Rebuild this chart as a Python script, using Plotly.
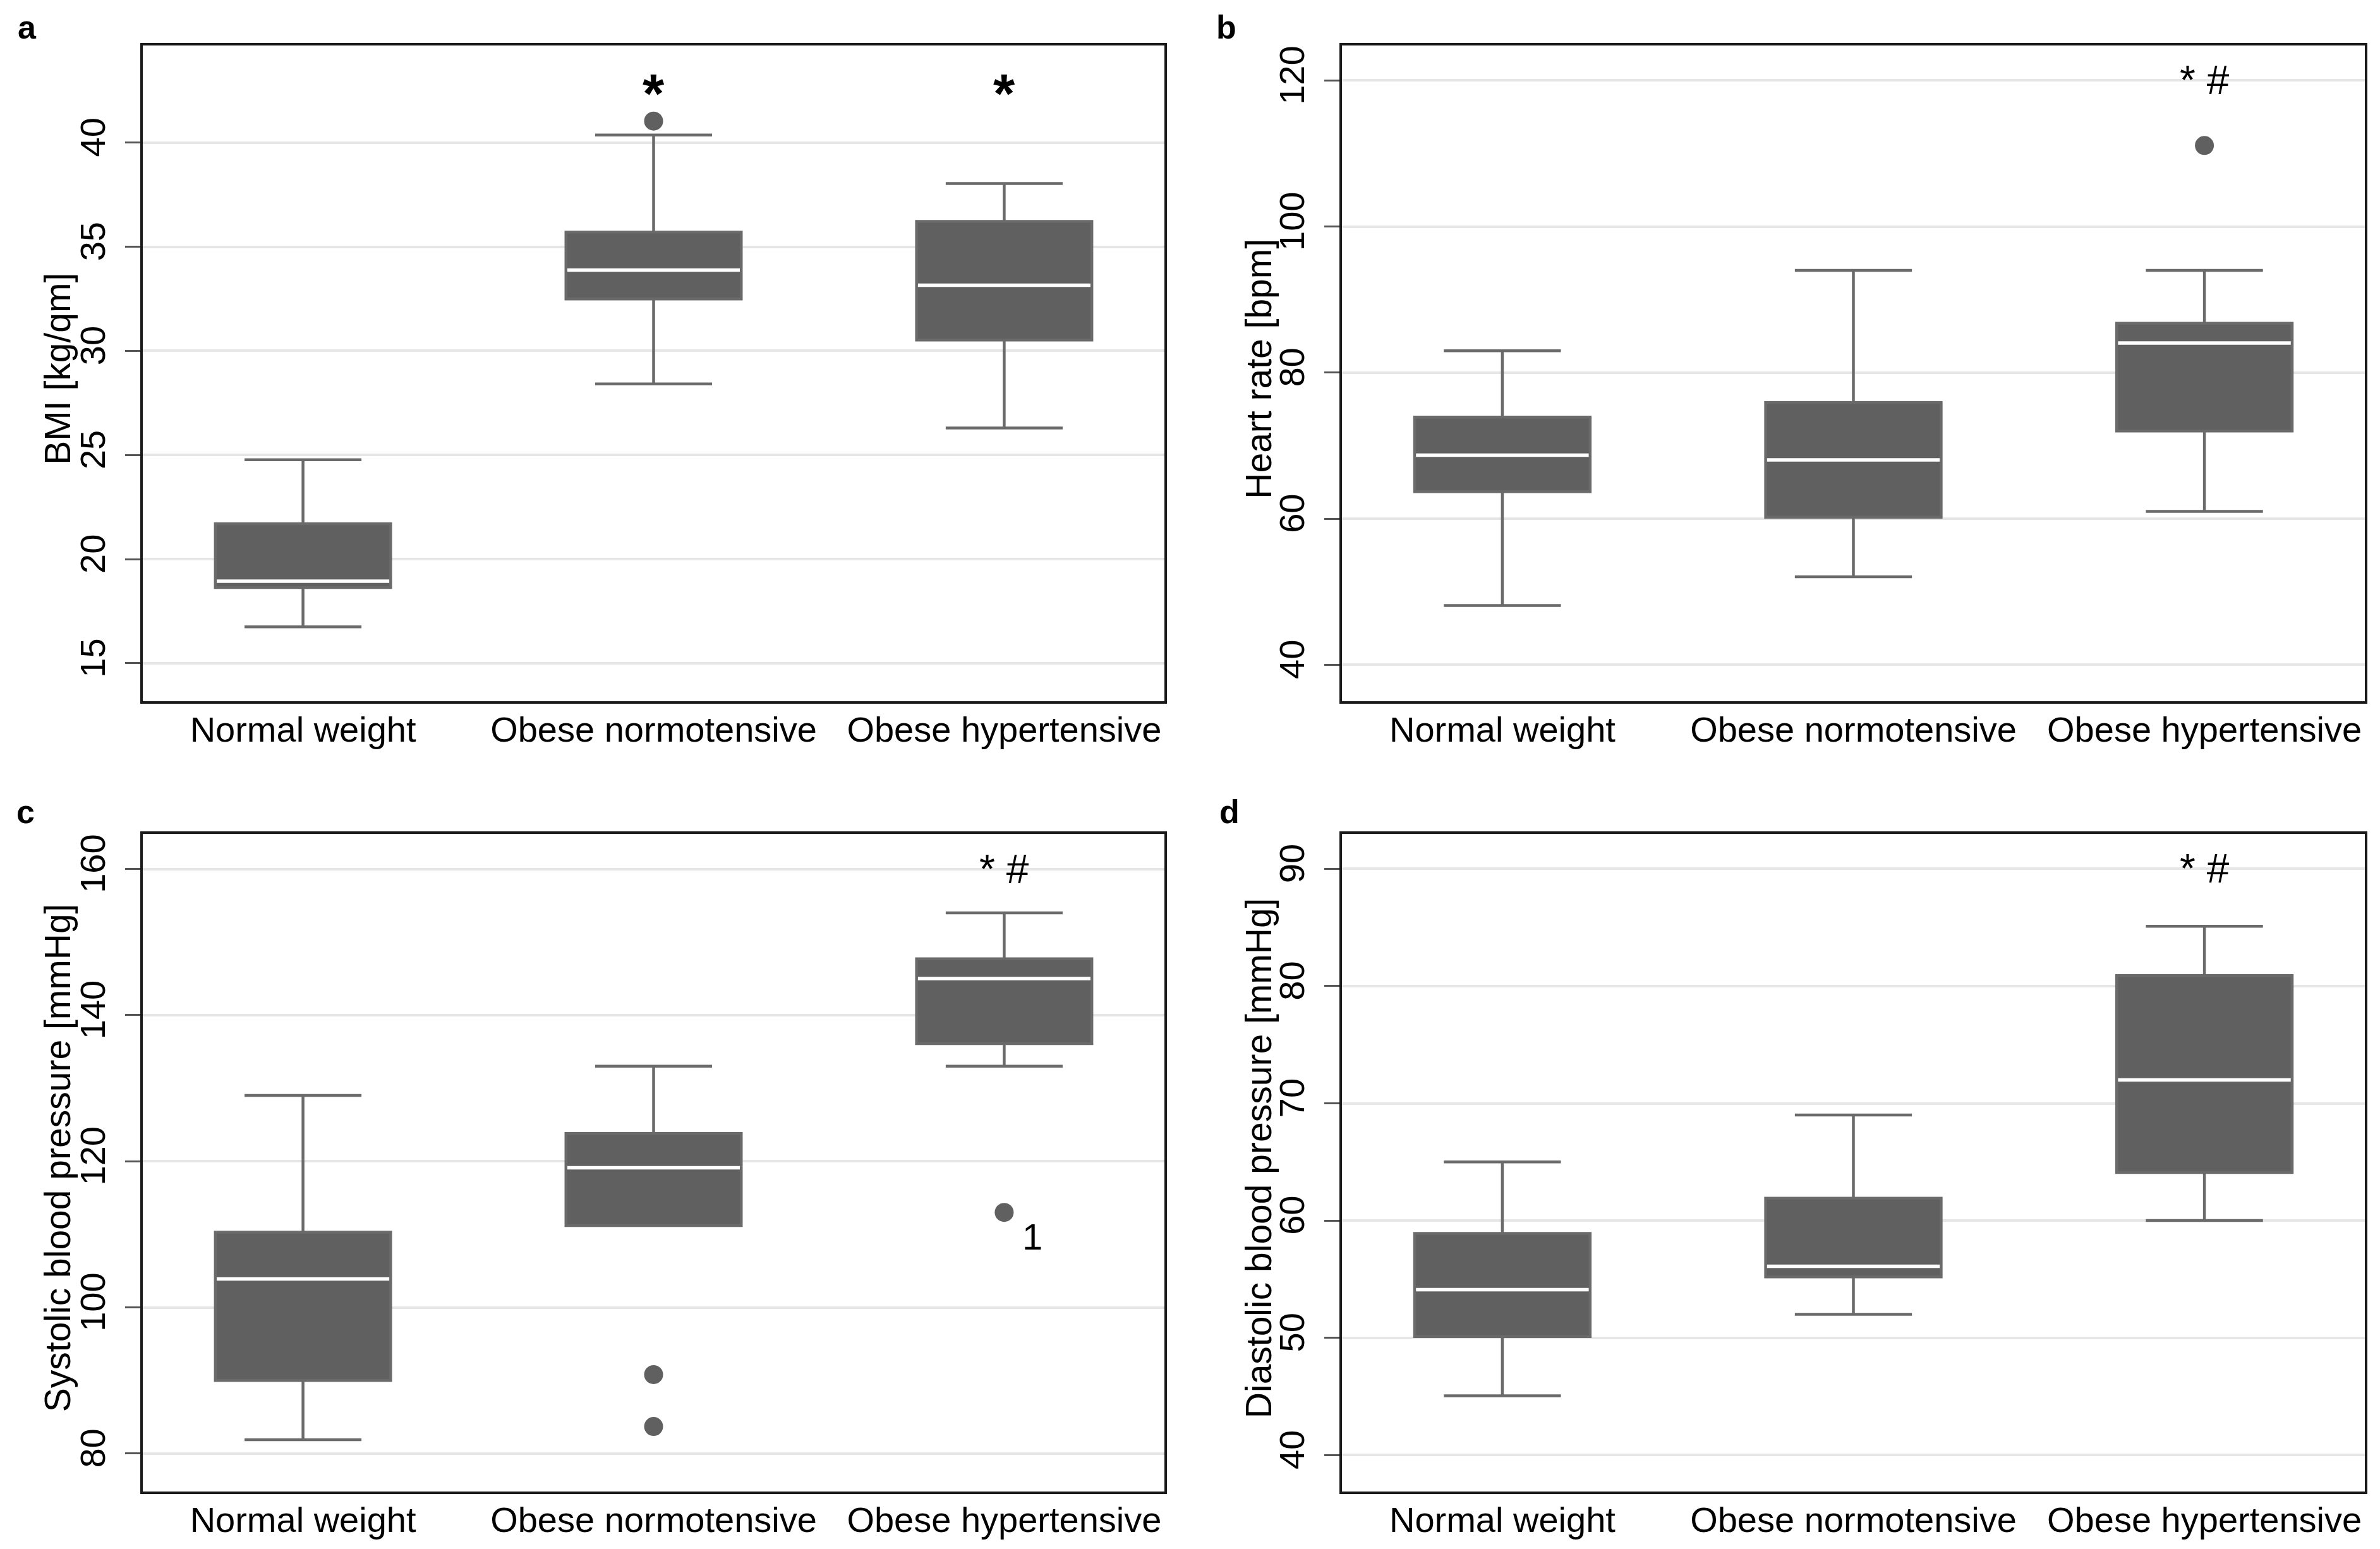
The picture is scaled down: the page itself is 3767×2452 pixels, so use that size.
import plotly.graph_objects as go

# ---------------- data ----------------
categories = ["Normal weight", "Obese normotensive", "Obese hypertensive"]

bmi_low = [16.75, 28.41, 26.30]
bmi_q1 = [18.64, 32.49, 30.52]
bmi_med = [18.94, 33.88, 33.15]
bmi_q3 = [21.70, 35.70, 36.21]
bmi_high = [24.77, 40.36, 38.03]
bmi_out_x = [1]
bmi_out_y = [41.03]

hr_low = [48.1, 52.05, 61.0]
hr_q1 = [63.7, 60.2, 72.0]
hr_med = [68.7, 68.05, 84.05]
hr_q3 = [73.9, 75.9, 86.75]
hr_high = [83.0, 94.0, 94.0]
hr_out_x = [2]
hr_out_y = [111.1]

sbp_low = [81.9, 111.2, 133.0]
sbp_q1 = [90.0, 111.2, 136.1]
sbp_med = [103.9, 119.1, 145.0]
sbp_q3 = [110.3, 123.8, 147.7]
sbp_high = [129.0, 133.0, 154.0]
sbp_out_x = [1, 1, 2]
sbp_out_y = [90.8, 83.7, 113.0]

dbp_low = [45.05, 52.0, 60.0]
dbp_q1 = [50.1, 55.2, 64.1]
dbp_med = [54.1, 56.1, 72.0]
dbp_q3 = [58.9, 61.9, 80.9]
dbp_high = [65.0, 69.0, 85.1]

titles = ["BMI [kg/qm]", "Heart rate [bpm]", "Systolic blood pressure [mmHg]",
          "Diastolic blood pressure [mmHg]"]
panel_letters = ["a", "b", "c", "d"]
y_tickvals = [[15, 20, 25, 30, 35, 40], [40, 60, 80, 100, 120],
              [80, 100, 120, 140, 160], [40, 50, 60, 70, 80, 90]]
y_ranges = [[13.18, 44.66], [35.0, 124.8], [74.8, 164.8], [36.89, 92.98]]

# significance marks: (panel, category index, y value, text)
sig_marks = [(0, 1, 42.36, "<b>*</b>"), (0, 2, 42.36, "<b>*</b>"),
             (1, 2, 120.0, "* #"), (2, 2, 160.0, "* #"), (3, 2, 90.0, "* #")]
point_labels = [(2, 2.08, 109.7, "1")]

# ---------------- styling ----------------
PAGE_W, PAGE_H = 3767, 2452
OFF = 8  # default body margin of the html page
W, H = PAGE_W - 2 * OFF, PAGE_H - 2 * OFF
FONT = "Liberation Sans, Arial, sans-serif"
BOX_FILL = "#606060"
BOX_LINE = "#6a6a6a"


def fx(px):
    return (px - OFF) / W


def fy(py):
    return 1 - (py - OFF) / H


x_doms = [[fx(226), fx(1843)], [fx(2124), fx(3743)]]
y_doms = [[fy(1110), fy(72)], [fy(2361), fy(1320)]]

panels = [
    (bmi_low, bmi_q1, bmi_med, bmi_q3, bmi_high, bmi_out_x, bmi_out_y),
    (hr_low, hr_q1, hr_med, hr_q3, hr_high, hr_out_x, hr_out_y),
    (sbp_low, sbp_q1, sbp_med, sbp_q3, sbp_high, sbp_out_x, sbp_out_y),
    (dbp_low, dbp_q1, dbp_med, dbp_q3, dbp_high, [], []),
]

fig = go.Figure()
pos = [0, 1, 2]
BW = 0.5

for i, (lo, q1, med, q3, hi, ox, oy) in enumerate(panels):
    xa = "x" if i == 0 else f"x{i+1}"
    ya = "y" if i == 0 else f"y{i+1}"
    fig.add_trace(go.Box(
        x=pos, q1=q1, median=med, q3=q3, lowerfence=lo, upperfence=hi,
        width=BW, whiskerwidth=0.667, fillcolor=BOX_FILL,
        line=dict(color=BOX_LINE, width=4.5), boxpoints=False,
        xaxis=xa, yaxis=ya, showlegend=False, hoverinfo="skip"))
    mx, my = [], []
    for p, m in zip(pos, med):
        mx += [p - BW / 2 + 0.004, p + BW / 2 - 0.004, None]
        my += [m, m, None]
    fig.add_trace(go.Scatter(x=mx, y=my, mode="lines",
                             line=dict(color="white", width=5.5),
                             xaxis=xa, yaxis=ya, showlegend=False, hoverinfo="skip"))
    if ox:
        fig.add_trace(go.Scatter(x=ox, y=oy, mode="markers",
                                 marker=dict(color=BOX_FILL, size=30, line=dict(width=0)),
                                 xaxis=xa, yaxis=ya, showlegend=False, hoverinfo="skip"))

layout = dict(
    width=W, height=H, autosize=False,
    margin=dict(l=0, r=0, t=0, b=0),
    paper_bgcolor="white", plot_bgcolor="white",
    font=dict(family=FONT, size=56, color="black"),
)

for i in range(4):
    col = i % 2
    row = i // 2
    xk = "xaxis" if i == 0 else f"xaxis{i+1}"
    yk = "yaxis" if i == 0 else f"yaxis{i+1}"
    xa = "x" if i == 0 else f"x{i+1}"
    ya = "y" if i == 0 else f"y{i+1}"
    layout[xk] = dict(
        domain=x_doms[col], anchor=ya, range=[-0.457, 2.457],
        tickmode="array", tickvals=pos, ticktext=categories,
        showgrid=False, zeroline=False, ticks="",
        showline=True, mirror=True, linecolor="#1a1a1a", linewidth=4,
        tickfont=dict(family=FONT, size=56, color="black"),
        ticklabelstandoff=-7,
    )
    layout[yk] = dict(
        domain=y_doms[row], anchor=xa, range=y_ranges[i],
        tickmode="array", tickvals=y_tickvals[i],
        tickangle=-90,
        showgrid=True, gridcolor="#e6e6e6", gridwidth=4, zeroline=False,
        ticks="outside", ticklen=24, tickwidth=3, tickcolor="#555555",
        showline=True, mirror=True, linecolor="#1a1a1a", linewidth=4,
        tickfont=dict(family=FONT, size=56, color="black"),
        ticklabelstandoff=10,
    )

ann = []
# panel letters
letter_pos = [(43, 43), (1941, 43), (40, 1285), (1946, 1285)]
for i, (lx, ly) in enumerate(letter_pos):
    ann.append(dict(text=f"<b>{panel_letters[i]}</b>", xref="paper", yref="paper",
                    x=fx(lx), y=fy(ly), xanchor="center", yanchor="middle",
                    showarrow=False, font=dict(family=FONT, size=52, color="black")))
# y-axis titles
title_x = [91, 1992, 91, 1992]
for i in range(4):
    col = i % 2
    row = i // 2
    d = y_doms[row]
    ann.append(dict(text=titles[i], xref="paper", yref="paper",
                    x=fx(title_x[i]), y=(d[0] + d[1]) / 2 + 0.003, textangle=-90,
                    xanchor="center", yanchor="middle", showarrow=False,
                    font=dict(family=FONT, size=57, color="black")))
for (p, cx, yv, t) in sig_marks:
    xa = "x" if p == 0 else f"x{p+1}"
    ya = "y" if p == 0 else f"y{p+1}"
    size = 88 if p == 0 else 64
    ann.append(dict(text=t, xref=xa, yref=ya, x=pos[cx], y=yv,
                    xanchor="center", yanchor="middle", showarrow=False,
                    font=dict(family=FONT, size=size, color="black")))
for (p, xv, yv, t) in point_labels:
    xa = "x" if p == 0 else f"x{p+1}"
    ya = "y" if p == 0 else f"y{p+1}"
    ann.append(dict(text=t, xref=xa, yref=ya, x=xv, y=yv,
                    xanchor="center", yanchor="middle", showarrow=False,
                    font=dict(family=FONT, size=58, color="black")))
layout["annotations"] = ann

fig.update_layout(**layout)
fig.write_html("out.html")
